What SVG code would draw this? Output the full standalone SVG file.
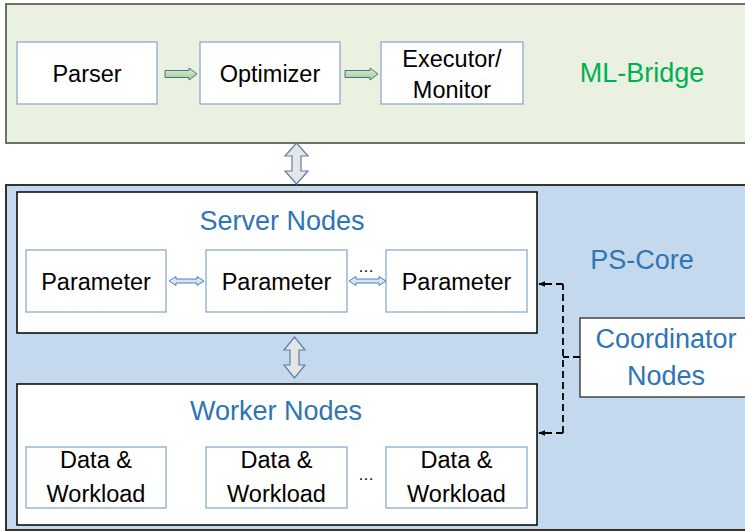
<svg xmlns="http://www.w3.org/2000/svg" width="745" height="531" viewBox="0 0 745 531">
<defs>
<linearGradient id="gArrow" x1="0" y1="0" x2="0" y2="1">
<stop offset="0" stop-color="#D8EBC8"/><stop offset="1" stop-color="#A9D18E"/>
</linearGradient>
<marker id="ah" viewBox="0 0 10 10" refX="9" refY="5" markerWidth="7" markerHeight="7" orient="auto" markerUnits="userSpaceOnUse">
<path d="M0,1 L10,5 L0,9 Z" fill="#000"/>
</marker>
</defs>
<style>
.lbl{font-family:"Liberation Sans",Arial,sans-serif;font-size:23.5px;fill:#000;text-anchor:middle}
.blue{font-family:"Liberation Sans",Arial,sans-serif;font-size:27px;fill:#2E75B6;text-anchor:middle}
.green{font-family:"Liberation Sans",Arial,sans-serif;font-size:27px;fill:#00B050;text-anchor:middle}
.sm{fill:#fff;stroke:#8EAACB;stroke-width:1.3}
.big{fill:#fff;stroke:#000;stroke-width:1.5}
.garr{fill:url(#gArrow);stroke:#41719C;stroke-width:1}
.varr{fill:#E6E6E6;stroke:#5B80AC;stroke-width:1.2}
.parr{fill:#DAE3F3;stroke:#4A7EBB;stroke-width:1}
.dash{fill:none;stroke:#000;stroke-width:1.8;stroke-dasharray:7,4}
</style>

<g id="ml-bridge">
<rect x="6" y="4" width="750" height="139" fill="#EAF1E0" stroke="#6B7366" stroke-width="2"/>
<text class="green" x="642" y="82">ML-Bridge</text>
</g>
<g id="parser">
<rect class="sm" x="17" y="42" width="140" height="62"/>
<text class="lbl" x="87" y="82">Parser</text>
</g>
<g id="optimizer">
<rect class="sm" x="200" y="42" width="140" height="62"/>
<text class="lbl" x="270" y="82">Optimizer</text>
</g>
<g id="executor">
<rect class="sm" x="381" y="42" width="142" height="62"/>
<text class="lbl" x="452" y="67">Executor/</text>
<text class="lbl" x="452" y="98">Monitor</text>
</g>

<g id="ps-core">
<rect x="6" y="185" width="750" height="345" fill="#C5D9EE" stroke="#333" stroke-width="2"/>
<text class="blue" x="642" y="269">PS-Core</text>
</g>
<g id="server-nodes">
<rect class="big" x="17" y="192" width="520" height="141"/>
<text class="blue" x="282" y="230">Server Nodes</text>
</g>
<g id="param1">
<rect class="sm" x="26" y="250" width="140" height="62"/>
<text class="lbl" x="96" y="290">Parameter</text>
</g>
<g id="param2">
<rect class="sm" x="206" y="250" width="141" height="62"/>
<text class="lbl" x="276.5" y="290">Parameter</text>
</g>
<g id="param3">
<rect class="sm" x="386" y="250" width="141" height="62"/>
<text class="lbl" x="456.5" y="290">Parameter</text>
</g>
<g id="worker-nodes">
<rect class="big" x="17" y="384" width="520" height="141"/>
<text class="blue" x="276" y="420">Worker Nodes</text>
</g>
<g id="data1">
<rect class="sm" x="26" y="447" width="140" height="61"/>
<text class="lbl" x="96" y="468">Data &amp;</text>
<text class="lbl" x="96" y="502">Workload</text>
</g>
<g id="data2">
<rect class="sm" x="206" y="447" width="141" height="61"/>
<text class="lbl" x="276.5" y="468">Data &amp;</text>
<text class="lbl" x="276.5" y="502">Workload</text>
</g>
<g id="data3">
<rect class="sm" x="386" y="447" width="141" height="61"/>
<text class="lbl" x="456.5" y="468">Data &amp;</text>
<text class="lbl" x="456.5" y="502">Workload</text>
</g>
<g id="coordinator">
<rect x="580" y="318" width="180" height="79" fill="#fff" stroke="#444" stroke-width="1.5"/>
<text class="blue" x="666" y="348">Coordinator</text>
<text class="blue" x="666" y="385">Nodes</text>
</g>

<g id="connectors">
<path class="garr" d="M165,70.5 H189 V68 L197,74 L189,80 V77.5 H165 Z"/>
<path class="garr" d="M345,70.5 H370 V68 L378,74 L370,80 V77.5 H345 Z"/>
<path class="varr" d="M296.5,143 L308,156 H301 V171 H308 L296.5,184 L285,171 H292 V156 H285 Z"/>
<path class="varr" d="M294.5,337 L305,350 H299 V365 H305 L294.5,378 L284,365 H290 V350 H284 Z"/>
<path class="parr" d="M169,281 L176,276.5 V279 H197 V276.5 L204,281 L197,285.5 V283 H176 V285.5 Z"/>
<path class="parr" d="M349,281 L356,276.5 V279 H379 V276.5 L386,281 L379,285.5 V283 H356 V285.5 Z"/>
<text class="lbl" x="366" y="272" style="font-size:16px">…</text>
<text class="lbl" x="366" y="480" style="font-size:16px">…</text>
<path class="dash" d="M580,357 H563"/>
<path class="dash" d="M563,433 V284"/>
<path class="dash" d="M563,284 H539" marker-end="url(#ah)"/>
<path class="dash" d="M563,433 H539" marker-end="url(#ah)"/>
</g>
</svg>
